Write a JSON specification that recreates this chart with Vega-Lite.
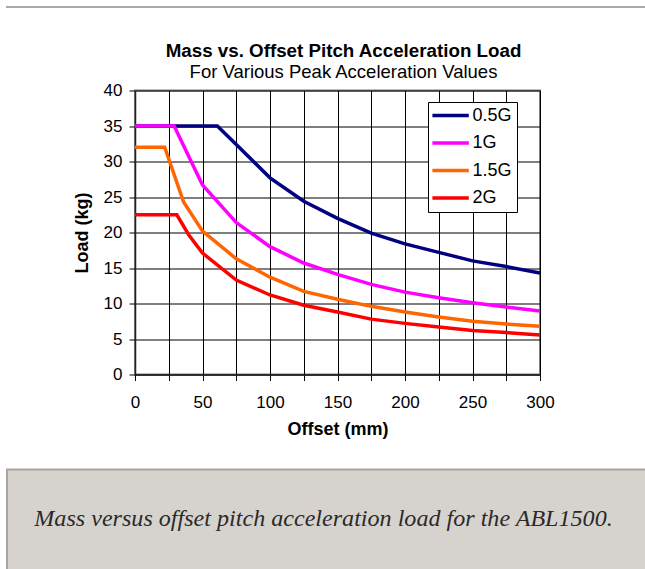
{
  "$schema": "https://vega.github.io/schema/vega-lite/v6.json",
  "padding": {"left": 6, "top": 0, "right": 0, "bottom": 0},
  "background": "white",
  "config": {
    "font": "Liberation Sans",
    "view": {"stroke": null}
  },
  "spacing": 26.5,
  "vconcat": [
    {
      "width": 641,
      "height": 0.1,
      "view": {"stroke": "#aeaaa2", "strokeWidth": 2},
      "data": {"values": [{"t": ""}]},
      "mark": {"type": "text"},
      "encoding": {"text": {"field": "t"}}
    },
    {
      "spacing": 29,
      "vconcat": [
        {
          "spacing": 0,
          "hconcat": [
            {
              "width": 65,
              "height": 10,
              "data": {"values": [{"t": ""}]},
              "mark": {"type": "text"},
              "encoding": {"text": {"field": "t"}}
            },
            {
              "width": 405,
              "height": 284,
              "view": {"stroke": "#808080", "strokeWidth": 2},
              "title": {
                "text": "Mass vs. Offset Pitch Acceleration Load",
                "subtitle": "For Various Peak Acceleration Values",
                "fontSize": 18.75,
                "fontWeight": "bold",
                "color": "black",
                "subtitleFontSize": 18.5,
                "subtitleColor": "black",
                "subtitlePadding": 2,
                "offset": 0,
                "anchor": "middle",
                "dx": 6
              },
              "data": {
                "values": [
                  {"series": "0.5G", "offset": 0, "load": 35},
                  {"series": "0.5G", "offset": 61, "load": 35},
                  {"series": "0.5G", "offset": 75, "load": 32.4},
                  {"series": "0.5G", "offset": 100, "load": 27.7},
                  {"series": "0.5G", "offset": 125, "load": 24.4},
                  {"series": "0.5G", "offset": 150, "load": 22.0},
                  {"series": "0.5G", "offset": 175, "load": 19.9},
                  {"series": "0.5G", "offset": 200, "load": 18.4},
                  {"series": "0.5G", "offset": 225, "load": 17.2},
                  {"series": "0.5G", "offset": 250, "load": 16.0},
                  {"series": "0.5G", "offset": 275, "load": 15.2},
                  {"series": "0.5G", "offset": 300, "load": 14.3},
                  {"series": "1G", "offset": 0, "load": 35},
                  {"series": "1G", "offset": 29, "load": 35},
                  {"series": "1G", "offset": 50, "load": 26.7},
                  {"series": "1G", "offset": 75, "load": 21.4},
                  {"series": "1G", "offset": 100, "load": 18.0},
                  {"series": "1G", "offset": 125, "load": 15.7},
                  {"series": "1G", "offset": 150, "load": 14.1},
                  {"series": "1G", "offset": 175, "load": 12.7},
                  {"series": "1G", "offset": 200, "load": 11.6},
                  {"series": "1G", "offset": 225, "load": 10.8},
                  {"series": "1G", "offset": 250, "load": 10.1},
                  {"series": "1G", "offset": 275, "load": 9.5},
                  {"series": "1G", "offset": 300, "load": 8.95},
                  {"series": "1.5G", "offset": 0, "load": 32},
                  {"series": "1.5G", "offset": 22, "load": 32},
                  {"series": "1.5G", "offset": 36, "load": 24.3},
                  {"series": "1.5G", "offset": 50, "load": 20.2},
                  {"series": "1.5G", "offset": 75, "load": 16.3},
                  {"series": "1.5G", "offset": 100, "load": 13.7},
                  {"series": "1.5G", "offset": 125, "load": 11.7},
                  {"series": "1.5G", "offset": 150, "load": 10.6},
                  {"series": "1.5G", "offset": 175, "load": 9.6},
                  {"series": "1.5G", "offset": 200, "load": 8.8},
                  {"series": "1.5G", "offset": 225, "load": 8.1},
                  {"series": "1.5G", "offset": 250, "load": 7.5},
                  {"series": "1.5G", "offset": 275, "load": 7.1},
                  {"series": "1.5G", "offset": 300, "load": 6.8},
                  {"series": "2G", "offset": 0, "load": 22.5},
                  {"series": "2G", "offset": 31, "load": 22.5},
                  {"series": "2G", "offset": 40, "load": 19.6},
                  {"series": "2G", "offset": 50, "load": 17.1},
                  {"series": "2G", "offset": 75, "load": 13.3},
                  {"series": "2G", "offset": 100, "load": 11.2},
                  {"series": "2G", "offset": 125, "load": 9.75},
                  {"series": "2G", "offset": 150, "load": 8.8},
                  {"series": "2G", "offset": 175, "load": 7.8},
                  {"series": "2G", "offset": 200, "load": 7.2},
                  {"series": "2G", "offset": 225, "load": 6.7},
                  {"series": "2G", "offset": 250, "load": 6.2},
                  {"series": "2G", "offset": 275, "load": 5.9},
                  {"series": "2G", "offset": 300, "load": 5.55}
                ]
              },
              "mark": {"type": "line", "strokeWidth": 3.5, "clip": false},
              "encoding": {
                "x": {
                  "field": "offset",
                  "type": "quantitative",
                  "scale": {"domain": [0, 300], "nice": false},
                  "axis": {
                    "title": "Offset (mm)",
                    "values": [0, 25, 50, 75, 100, 125, 150, 175, 200, 225, 250, 275, 300],
                    "labelExpr": "datum.value % 50 == 0 ? datum.label : ''",
                    "labelOverlap": false,
                    "labelFlush": false,
                    "grid": true,
                    "gridColor": "#000000",
                    "gridOpacity": 1,
                    "gridWidth": 1,
                    "domainColor": "#222222",
                    "domainWidth": 1.5,
                    "tickColor": "#000000",
                    "tickSize": 6,
                    "labelFontSize": 17,
                    "labelColor": "#000000",
                    "labelPadding": 14,
                    "titleFontSize": 18,
                    "titleFontWeight": "bold",
                    "titleColor": "#000000",
                    "titlePadding": 10
                  }
                },
                "y": {
                  "field": "load",
                  "type": "quantitative",
                  "scale": {"domain": [0, 40], "nice": false},
                  "axis": {
                    "title": "Load (kg)",
                    "values": [0, 5, 10, 15, 20, 25, 30, 35, 40],
                    "labelOverlap": false,
                    "labelFlush": false,
                    "grid": true,
                    "gridColor": "#000000",
                    "gridOpacity": 1,
                    "gridWidth": 1,
                    "domainColor": "#222222",
                    "domainWidth": 1.5,
                    "tickColor": "#000000",
                    "tickSize": 6,
                    "labelFontSize": 17,
                    "labelColor": "#000000",
                    "labelPadding": 7,
                    "titleFontSize": 18,
                    "titleFontWeight": "bold",
                    "titleColor": "#000000",
                    "titlePadding": 12
                  }
                },
                "color": {
                  "field": "series",
                  "type": "nominal",
                  "scale": {
                    "domain": ["0.5G", "1G", "1.5G", "2G"],
                    "range": ["#000080", "#ff00ff", "#ff6600", "#ff0000"]
                  },
                  "legend": {
                    "title": null,
                    "orient": "none",
                    "legendX": 421,
                    "legendY": 95,
                    "fillColor": "white",
                    "strokeColor": "black",
                    "padding": 4.5,
                    "rowPadding": 9.5,
                    "symbolType": "M-1.3,0H3.9",
                    "symbolSize": 196,
                    "symbolStrokeWidth": 3.5,
                    "symbolOffset": 0,
                    "labelFontSize": 18,
                    "labelOffset": 22,
                    "labelColor": "#000000"
                  }
                }
              }
            }
          ]
        },
        {
          "width": 641,
          "height": 103,
          "view": {"fill": "#d6d3ce", "stroke": "#aaa69e", "strokeWidth": 2},
          "data": {"values": [{"caption": "Mass versus offset pitch acceleration load for the ABL1500."}]},
          "mark": {
            "type": "text",
            "font": "Liberation Serif",
            "fontStyle": "italic",
            "fontSize": 24.1,
            "color": "#2a2a2a",
            "dx": -4,
            "dy": -2
          },
          "encoding": {"text": {"field": "caption"}}
        }
      ]
    }
  ]
}
